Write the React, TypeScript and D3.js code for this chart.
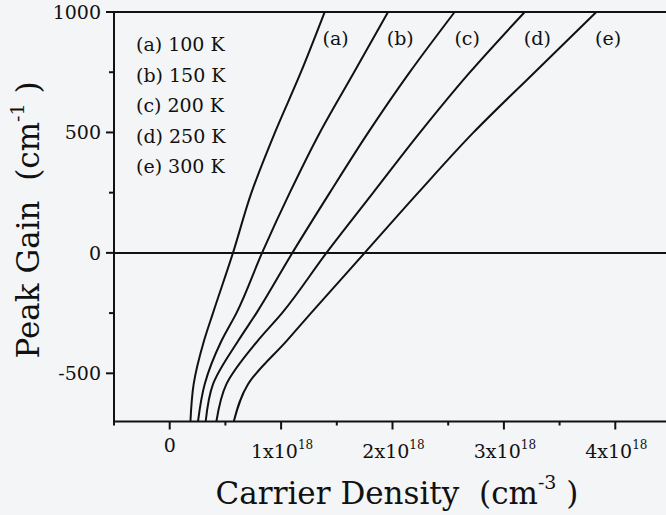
import React from "react";
import * as d3 from "d3";

const gains = [-700, -545, -365, -249, 0, 249, 498, 747, 1000];
const seriesA = [0.186, 0.215, 0.308, 0.389, 0.568, 0.733, 0.943, 1.175, 1.391];
const seriesB = [0.254, 0.314, 0.465, 0.6, 0.829, 1.077, 1.346, 1.651, 1.96];
const seriesC = [0.323, 0.389, 0.615, 0.78, 1.101, 1.436, 1.78, 2.15, 2.558];
const seriesD = [0.419, 0.509, 0.79, 1.01, 1.407, 1.825, 2.244, 2.69, 3.187];
const seriesE = [0.575, 0.703, 1.05, 1.27, 1.75, 2.229, 2.723, 3.27, 3.83];
const curveLabels = ["(a)", "(b)", "(c)", "(d)", "(e)"];
const curveLabelX = [1.49, 2.07, 2.67, 3.3, 3.935];
const legendItems = ["(a) 100 K", "(b) 150 K", "(c) 200 K", "(d) 250 K", "(e) 300 K"];
const xTicks = [0, 1, 2, 3, 4];
const xMinor = [-0.5, 0.5, 1.5, 2.5, 3.5, 4.5];
const yTicks = [1000, 500, 0, -500];
const yMinor = [750, 250, -250];

const FONT = "'DejaVu Serif', 'Liberation Serif', serif";

export default function App() {
  const W = 666, H = 515;
  const x = d3.scaleLinear().domain([-0.5, 4.5]).range([114, 671]);
  const y = d3.scaleLinear().domain([-700, 1000]).range([421.5, 12]);
  const all = [seriesA, seriesB, seriesC, seriesD, seriesE];
  const line = d3
    .line<[number, number]>()
    .x((d) => x(d[0]))
    .y((d) => y(d[1]))
    .curve(d3.curveMonotoneY);

  return (
    <svg width={W} height={H} style={{ position: "absolute", left: 0, top: 0, background: "#f4f5f6" }}>
      <rect x={0} y={0} width={W} height={H} fill="#f4f5f6" />
      {all.map((s, i) => (
        <path
          key={i}
          d={line(s.map((v, j) => [v, gains[j]] as [number, number])) || ""}
          fill="none"
          stroke="#111"
          strokeWidth={2}
        />
      ))}
      {/* zero line */}
      <line x1={x(-0.5)} x2={W} y1={y(0)} y2={y(0)} stroke="#111" strokeWidth={2} />
      {/* frame */}
      <line x1={x(-0.5)} x2={W} y1={y(1000)} y2={y(1000)} stroke="#111" strokeWidth={2} />
      <line x1={x(-0.5)} x2={W} y1={y(-700)} y2={y(-700)} stroke="#111" strokeWidth={2} />
      <line x1={x(-0.5)} x2={x(-0.5)} y1={y(1000) - 1} y2={y(-700) + 1} stroke="#111" strokeWidth={2} />
      {/* y ticks */}
      {yTicks.map((t) => (
        <g key={t}>
          <line x1={x(-0.5) - 8} x2={x(-0.5)} y1={y(t)} y2={y(t)} stroke="#111" strokeWidth={2} />
          <text x={101} y={y(t) + 7} textAnchor="end" fontFamily={FONT} fontSize={19} fill="#111">
            {t}
          </text>
        </g>
      ))}
      {yMinor.map((t) => (
        <line key={t} x1={x(-0.5) - 5} x2={x(-0.5)} y1={y(t)} y2={y(t)} stroke="#111" strokeWidth={2} />
      ))}
      {/* x ticks */}
      {xTicks.map((t) => (
        <g key={t}>
          <line x1={x(t)} x2={x(t)} y1={y(-700)} y2={y(-700) + 8} stroke="#111" strokeWidth={2} />
          <text x={x(t) + (t === 0 ? 0 : 1)} y={t === 0 ? 452 : 458} textAnchor="middle" fontFamily={FONT} fontSize={19} fill="#111">
            {t === 0 ? "0" : (
              <>
                {`${t}x10`}
                <tspan fontSize={12} dy={-9}>18</tspan>
              </>
            )}
          </text>
        </g>
      ))}
      {xMinor.map((t) => (
        <line key={t} x1={x(t)} x2={x(t)} y1={y(-700)} y2={y(-700) + 4} stroke="#111" strokeWidth={2} />
      ))}
      {/* legend */}
      {legendItems.map((s, i) => (
        <text key={s} x={136} y={51 + i * 30.5} fontFamily={FONT} fontSize={19} fill="#111">
          {s}
        </text>
      ))}
      {/* curve labels */}
      {curveLabels.map((s, i) => (
        <text key={s} x={x(curveLabelX[i])} y={45} textAnchor="middle" fontFamily={FONT} fontSize={19} fill="#111">
          {s}
        </text>
      ))}
      {/* axis titles */}
      <text x={397} y={504} textAnchor="middle" fontFamily={FONT} fontSize={31} fill="#111">
        Carrier Density{"\u00a0\u00a0"}(cm
        <tspan fontSize={19} dy={-15}>-3</tspan>
        <tspan dy={15}>{"\u00a0)"}</tspan>
      </text>
      <text
        transform="translate(39,220) rotate(-90)"
        textAnchor="middle"
        fontFamily={FONT}
        fontSize={31}
        fill="#111"
      >
        Peak Gain{"\u00a0\u00a0"}(cm
        <tspan fontSize={19} dy={-15}>-1</tspan>
        <tspan dy={15}>{"\u00a0)"}</tspan>
      </text>
    </svg>
  );
}
